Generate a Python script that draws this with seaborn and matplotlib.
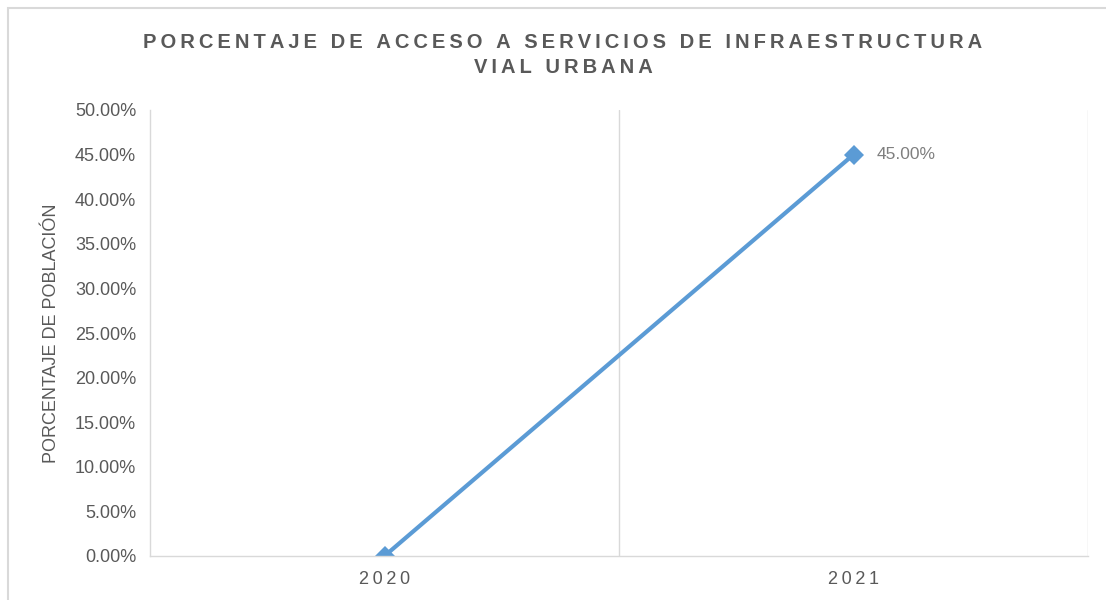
import pandas as pd
import matplotlib
matplotlib.use('Agg')
import matplotlib.pyplot as plt
import seaborn as sns
from matplotlib.ticker import PercentFormatter, FixedLocator
from matplotlib.patches import Rectangle

# Data
years = ['2020', '2021']
access_pct = [0.00, 0.45]

title = 'PORCENTAJE DE ACCESO A SERVICIOS DE INFRAESTRUCTURA\nVIAL URBANA'
ylabel = 'PORCENTAJE DE POBLACIÓN'

GREY_TXT = '#595959'
GRID = '#D9D9D9'
BLUE = '#5B9BD5'


def spaced(text, sep='\u2009'):
    '''insert thin spaces between letters to mimic letter spacing'''
    return '\n'.join(sep.join(line) for line in text.split('\n'))


sns.set_theme(style='white')
plt.rcParams['font.family'] = ['Liberation Sans', 'DejaVu Sans']

df = pd.DataFrame({'year': years, 'pct': access_pct})

fig = plt.figure(figsize=(11.06, 6), dpi=100)
ax = fig.add_axes([150 / 1106, 44 / 600, 938 / 1106, 446 / 600])

sns.lineplot(data=df, x='year', y='pct', ax=ax, color=BLUE, linewidth=3,
             marker='D', markersize=10, markeredgewidth=0)

# axes styling
ax.set_xlim(-0.5, 1.5)
ax.set_ylim(0, 0.5)
ax.set_yticks([i * 0.05 for i in range(11)])
ax.yaxis.set_major_formatter(PercentFormatter(xmax=1, decimals=2))
ax.set_xticks(range(len(years)))
ax.set_xticklabels([spaced(y) for y in years])
ax.xaxis.set_minor_locator(FixedLocator([0.5, 1.5]))
ax.grid(False)
ax.grid(True, which='minor', axis='x', color=GRID, linewidth=1)
for side in ['top', 'right']:
    ax.spines[side].set_visible(False)
for side in ['left', 'bottom']:
    ax.spines[side].set_color(GRID)
    ax.spines[side].set_linewidth(1)
ax.tick_params(axis='both', which='both', length=0, labelsize=13, labelcolor=GREY_TXT)
ax.tick_params(axis='y', pad=10)
ax.tick_params(axis='x', pad=11)
ax.set_xlabel('')
ax.set_ylabel(ylabel, fontsize=13, color=GREY_TXT, labelpad=11)

# data label for the last point
ax.annotate(f'{access_pct[-1] * 100:.2f}%', xy=(1, access_pct[-1]), xytext=(17, 0),
            textcoords='offset points', va='center', ha='left',
            fontsize=12.5, color='#7F7F7F')

fig.text(563 / 1106, 1 - 55 / 600, spaced(title), ha='center', va='center',
         fontsize=14.5, fontweight='bold', color=GREY_TXT, linespacing=1.45)

# chart area border
fig.patches.append(Rectangle((8 / 1106, -0.1), 1.2, 1 - 8 / 600 + 0.1,
                             transform=fig.transFigure, fill=False,
                             edgecolor=GRID, linewidth=1.5))

fig.savefig('out.png', dpi=100)
